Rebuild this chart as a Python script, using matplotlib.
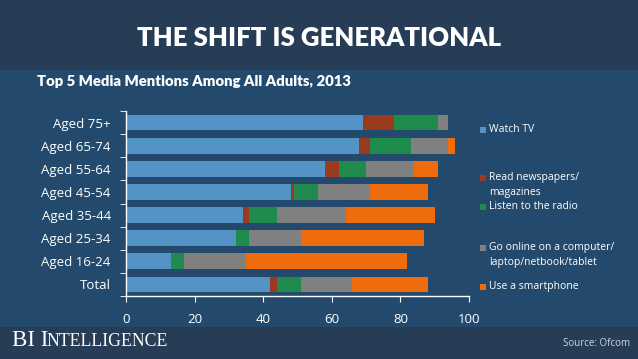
import matplotlib
matplotlib.use("Agg")
import matplotlib.pyplot as plt
from matplotlib.patches import Rectangle
import numpy as np

CATEGORIES = ["Aged 75+", "Aged 65-74", "Aged 55-64", "Aged 45-54",
              "Aged 35-44", "Aged 25-34", "Aged 16-24", "Total"]
WATCH_TV = [69, 68, 58, 48, 34, 32, 13, 42]
READ_PAPERS = [9, 3, 4, 1, 2, 0, 0, 2]
RADIO = [13, 12, 8, 7, 8, 4, 4, 7]
GO_ONLINE = [3, 11, 14, 15, 20, 15, 18, 15]
SMARTPHONE = [0, 2, 7, 17, 26, 36, 47, 22]

SERIES = [
    ("Watch TV", WATCH_TV, "#5393c6"),
    ("Read newspapers/\nmagazines", READ_PAPERS, "#9c3a1f"),
    ("Listen to the radio", RADIO, "#1f8c4e"),
    ("Go online on a computer/\nlaptop/netbook/tablet", GO_ONLINE, "#808080"),
    ("Use a smartphone", SMARTPHONE, "#ee6c0c"),
]
LEGEND_Y = [130, 178, 207, 248, 287]  # pixel row of each entry's first line

DARK = "#273c55"
MID = "#234a6d"
W, H = 638, 359

fig = plt.figure(figsize=(W / 100, H / 100), dpi=100)
fig.patch.set_facecolor(MID)

# header and footer bands
fig.add_artist(Rectangle((0, 1 - 70 / H), 1, 70 / H, transform=fig.transFigure,
                         facecolor=DARK, edgecolor="none"))
fig.add_artist(Rectangle((0, 0), 1, 32 / H, transform=fig.transFigure,
                         facecolor=DARK, edgecolor="none"))

fig.text(0.5, 1 - 38 / H, "THE SHIFT IS GENERATIONAL", color="white",
         fontsize=18.5, fontweight="heavy", family="Lato", ha="center", va="center")
fig.text(37 / W, 1 - 82 / H, "Top 5 Media Mentions Among All Adults, 2013", color="white",
         fontsize=10.7, fontweight="heavy", family="Lato", ha="left", va="center")

ax = fig.add_axes([126 / W, 1 - 296 / H, (469 - 126) / W, (296 - 111) / H])
ax.set_facecolor(MID)

y = np.arange(len(CATEGORIES))
left = np.zeros(len(CATEGORIES))
for label, values, color in SERIES:
    ax.barh(y, values, left=left, height=0.68, color=color, edgecolor="none")
    left += np.array(values)

ax.set_xlim(0, 100)
ax.set_ylim(len(CATEGORIES) - 0.5, -0.5)
ax.set_xticks(np.arange(0, 101, 20))
ax.set_yticks(y)
ax.set_yticklabels(CATEGORIES)
ax.set_yticks(np.arange(-0.5, len(CATEGORIES), 1), minor=True)
ax.tick_params(axis="y", which="major", length=0, pad=11, labelsize=9.5, labelcolor="white")
ax.tick_params(axis="y", which="minor", length=4, color="white", direction="out")
ax.tick_params(axis="x", length=4, color="white", labelsize=9.5, labelcolor="white", pad=8)
for lab in ax.get_xticklabels() + ax.get_yticklabels():
    lab.set_family("Open Sans")
for side in ["top", "right"]:
    ax.spines[side].set_visible(False)
for side in ["left", "bottom"]:
    ax.spines[side].set_color("white")
    ax.spines[side].set_linewidth(1)

# legend drawn by hand, entries sit at uneven heights as in the source
for (label, values, color), ly in zip(SERIES, LEGEND_Y):
    fig.add_artist(Rectangle((480 / W, 1 - (ly + 3) / H), 6 / W, 6 / H,
                             transform=fig.transFigure, facecolor=color, edgecolor="none"))
    fig.text(489 / W, 1 - (ly - 6) / H, label, color="white", fontsize=7.5,
             family="Open Sans", ha="left", va="top", linespacing=1.5)

# footer, small caps imitated with two sizes
fig.text(12 / W, 1 - 341 / H, "BI I", color="white", fontsize=16.5,
         family="Liberation Serif", ha="left", va="center")
fig.text(46 / W, 1 - 342 / H, "NTELLIGENCE", color="white", fontsize=12.8,
         family="Liberation Serif", ha="left", va="center")
fig.text(630 / W, 1 - 343 / H, "Source: Ofcom", color="#d0d6de", fontsize=7,
         family="Open Sans", ha="right", va="center")

fig.savefig("out.png", dpi=100, facecolor=fig.get_facecolor())
